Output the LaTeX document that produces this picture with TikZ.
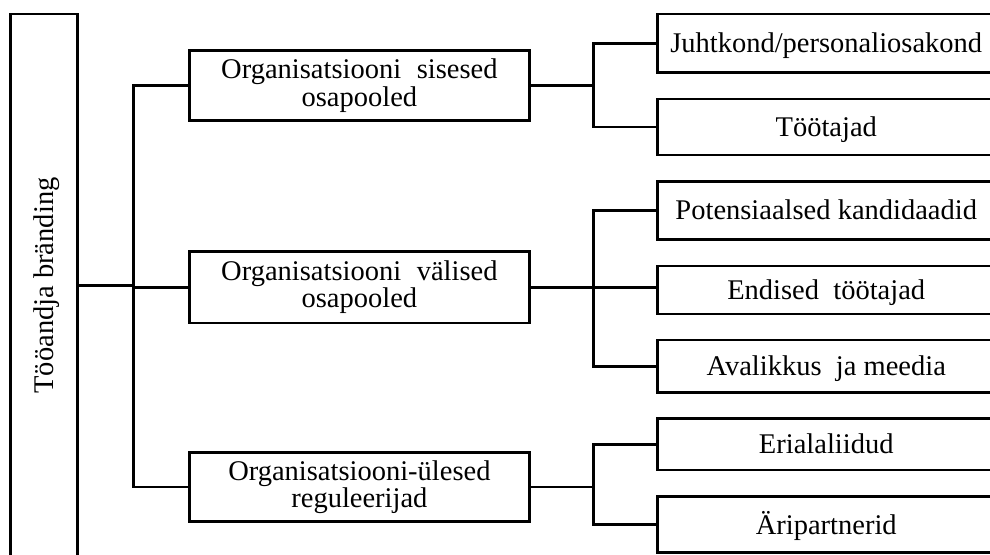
\documentclass[tikz,border=0pt]{standalone}
\usepackage{fontspec}
\setmainfont{Liberation Serif}
\begin{document}
\begin{tikzpicture}[x=1pt,y=-1pt, line width=2.6pt,
  box/.style={draw, line width=2.6pt, inner sep=0pt, outer sep=0pt, fill=white,
    font=\fontsize{28.5}{27.3}\selectfont},
  leaf/.style={box, minimum width=337.5pt, text height=25.6pt, text depth=6.8pt},
  mid/.style={box, minimum width=339.8pt, align=center},
  conn/.style={draw, line width=2.6pt}
]
\useasboundingbox (0,0) rectangle (990,554);
\fill[white] (0,0) rectangle (990,554);
\clip (0,0) rectangle (990,554);

% root
\node[box, minimum width=67pt, minimum height=543pt] (L) at (44.2,285.5)
  {\rotatebox{90}{\raisebox{0pt}[25.6pt][6.8pt]{Tööandja bränding}}};

% middle level
\node[mid, minimum height=70pt]   (M1) at (359.4,85.7)  {Organisatsiooni\hspace{0.55em}sisesed\\osapooled};
\node[mid, minimum height=71.5pt] (M2) at (359.4,287.3) {Organisatsiooni\hspace{0.55em}välised\\osapooled};
\node[mid, minimum height=69.4pt] (M3) at (359.4,487)   {Organisatsiooni-ülesed\\reguleerijad};

% leaves
\node[leaf, minimum height=58.7pt] (R1) at (826.25,43.35) {Juhtkond/personaliosakond};
\node[leaf, minimum height=56pt]   (R2) at (826.25,127)   {Töötajad};
\node[leaf, minimum height=57.6pt] (R3) at (826.25,210.5) {Potensiaalsed kandidaadid};
\node[leaf, minimum height=48pt]   (R4) at (826.25,290)   {Endised\hspace{0.5em}töötajad};
\node[leaf, minimum height=52.3pt] (R5) at (826.25,366.2) {Avalikkus\hspace{0.5em}ja meedia};
\node[leaf, minimum height=51.7pt] (R6) at (826.25,444.2) {Erialaliidud};
\node[leaf, minimum height=56pt]   (R7) at (826.25,524.7) {Äripartnerid};

% bus coordinates
\coordinate (tr) at (133.3,0);
\coordinate (br) at (593.3,0);

% root to middle
\draw[conn] (L.east) -- (L.east -| tr);
\draw[conn] (M1.west) -- (M1.west -| tr) -- (M3.west -| tr) -- (M3.west);
\draw[conn] (M2.west -| tr) -- (M2.west);

% middle to leaves
\draw[conn] (M1.east) -- (M1.east -| br);
\draw[conn] (R1.west) -- (R1.west -| br) -- (R2.west -| br) -- (R2.west);

\draw[conn] (M2.east) -- (M2.east -| R4.west);
\draw[conn] (R3.west) -- (R3.west -| br) -- (R5.west -| br) -- (R5.west);

\draw[conn] (M3.east) -- (M3.east -| br);
\draw[conn] (R6.west) -- (R6.west -| br) -- (R7.west -| br) -- (R7.west);
\end{tikzpicture}
\end{document}
